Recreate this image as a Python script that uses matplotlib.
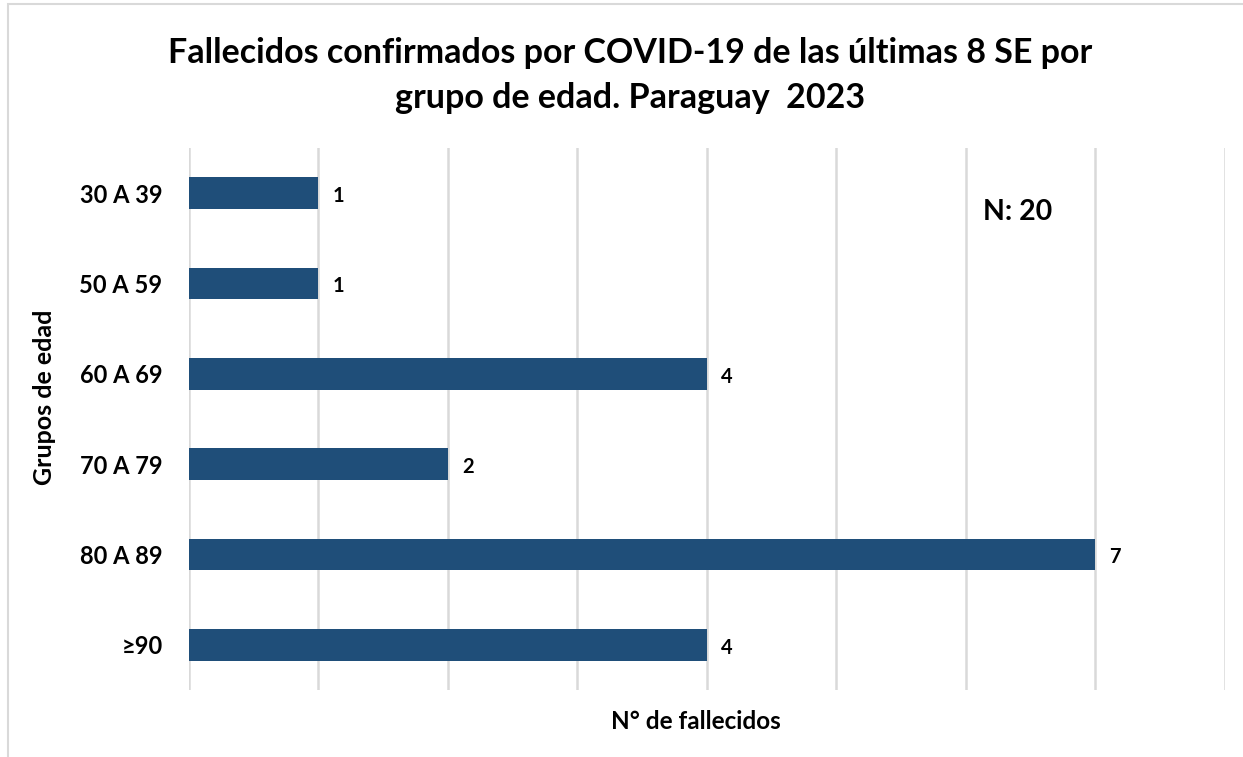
import matplotlib.pyplot as plt
from matplotlib.patches import Rectangle

grupos = ['30 A 39', '50 A 59', '60 A 69', '70 A 79', '80 A 89', '≥90']
fallecidos = [1, 1, 4, 2, 7, 4]
total_txt = 'N: 20'

plt.rcParams['font.family'] = ['Lato', 'DejaVu Sans']

fig = plt.figure(figsize=(12.43, 7.57), dpi=100)
ax = fig.add_axes([0.152, 0.0885, 0.8335, 0.716])

y = list(range(len(grupos)))
ax.barh(y, fallecidos, height=0.35, color='#1F4E79', zorder=3)
for yi, v in zip(y, fallecidos):
    ax.annotate(str(v), (v, yi), xytext=(10, -2), textcoords='offset points',
                va='center', ha='left', fontsize=14.5, fontweight='bold')

ax.set_xlim(0, 8)
ax.set_ylim(len(grupos) - 0.5, -0.5)
ax.set_xticks(range(0, 9))
ax.set_xticklabels([])
ax.tick_params(axis='x', length=0)
ax.tick_params(axis='y', length=0, pad=19, labelsize=17)
ax.set_yticks(y)
ax.set_yticklabels(grupos, fontweight='bold')
ax.grid(axis='x', color='#D9D9D9', linewidth=1.8, zorder=0)
for s in ax.spines.values():
    s.set_visible(False)

ax.set_ylabel('Grupos de edad', fontsize=18, fontweight='bold', va='center')
ax.yaxis.set_label_coords(-0.139, 0.54)
ax.set_xlabel('N° de fallecidos', fontsize=17.5, fontweight='bold', va='center')
ax.xaxis.set_label_coords(0.489, -0.059)

fig.text(0.507, 0.9, 'Fallecidos confirmados por COVID-19 de las últimas 8 SE por\ngrupo de edad. Paraguay  2023',
         ha='center', va='center', fontsize=24.5, fontweight='bold', linespacing=1.5)
ax.text(6.4, 0.21, total_txt, ha='center', va='center', fontsize=20.5, fontweight='bold')

fig.patches.append(Rectangle((8 / 1243, -0.1), 1.2, 1 - 4 / 757 + 0.1,
                             transform=fig.transFigure, fill=False,
                             edgecolor='#D9D9D9', linewidth=1.5))

fig.savefig('out.png', dpi=100)
